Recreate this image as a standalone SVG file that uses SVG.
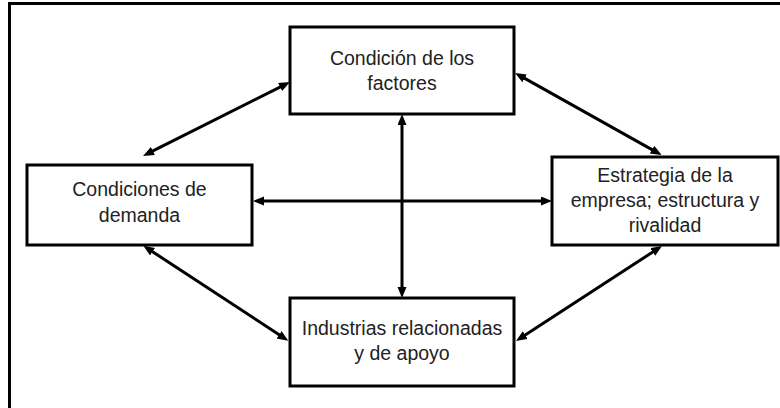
<svg xmlns="http://www.w3.org/2000/svg" width="780" height="408" viewBox="0 0 780 408">
<style>
.box{fill:#fff;stroke:#000;stroke-width:3}
.lbl{font-family:"Liberation Sans",Arial,sans-serif;font-size:19.5px;fill:#222;text-anchor:middle}
.con{stroke:#000;stroke-width:3;fill:none;marker-start:url(#ah);marker-end:url(#ah)}
</style>
<defs>
<marker id="ah" markerUnits="userSpaceOnUse" markerWidth="12" markerHeight="10" refX="6" refY="4.5" orient="auto-start-reverse">
<path d="M0,0 L11,4.5 L0,9 z" fill="#000"/>
</marker>
</defs>
<rect x="0" y="0" width="780" height="408" fill="#fff"/>
<rect x="9.5" y="3.5" width="800" height="420" fill="none" stroke="#000" stroke-width="3"/>
<g id="connectors">
<line class="con" x1="402" y1="119" x2="402" y2="293"/>
<line class="con" x1="258" y1="201" x2="547" y2="201"/>
<line class="con" x1="147.5" y1="153.7" x2="285.5" y2="84.3"/>
<line class="con" x1="519.4" y1="75.4" x2="657.3" y2="152.6"/>
<line class="con" x1="147.5" y1="248.4" x2="284.1" y2="338"/>
<line class="con" x1="657.8" y1="248.7" x2="520.2" y2="338.3"/>
</g>
<g id="factores">
<rect class="box" x="290" y="27" width="224" height="87"/>
<text class="lbl" x="402" y="65">Condición de los</text>
<text class="lbl" x="402" y="90">factores</text>
</g>
<g id="demanda">
<rect class="box" x="27" y="165" width="225" height="80"/>
<text class="lbl" x="139.5" y="196">Condiciones de</text>
<text class="lbl" x="139.5" y="222">demanda</text>
</g>
<g id="estrategia">
<rect class="box" x="552" y="157" width="226" height="88"/>
<text class="lbl" x="665" y="182">Estrategia de la</text>
<text class="lbl" x="665" y="207">empresa; estructura y</text>
<text class="lbl" x="665" y="232">rivalidad</text>
</g>
<g id="industrias">
<rect class="box" x="290" y="298" width="224" height="88"/>
<text class="lbl" x="402" y="335">Industrias relacionadas</text>
<text class="lbl" x="402" y="360">y de apoyo</text>
</g>
</svg>
